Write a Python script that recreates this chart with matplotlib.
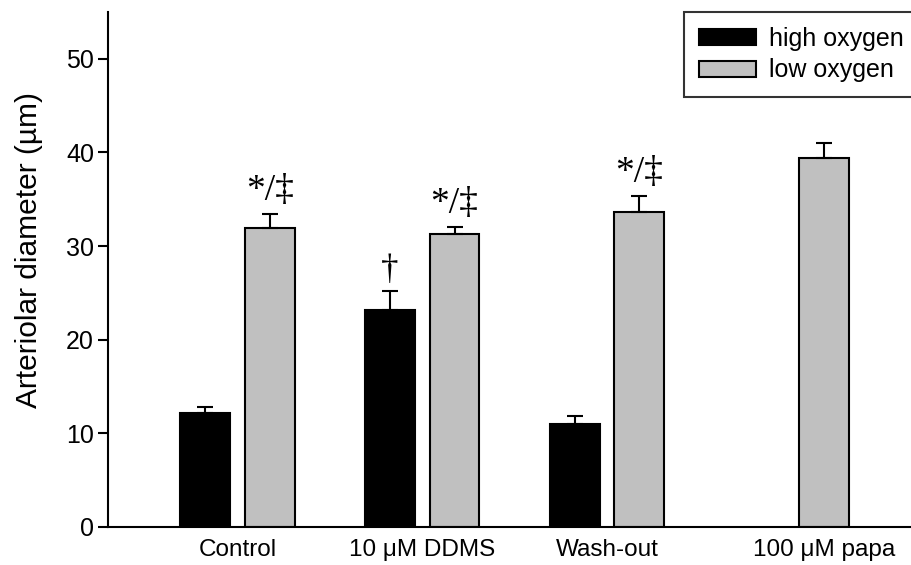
import numpy as np
import matplotlib.pyplot as plt

groups = ["Control", "10 μM DDMS", "Wash-out", "100 μM papa"]
high_o2 = [12.2, 23.2, 11.05, np.nan]
high_err = [0.65, 2.0, 0.8, np.nan]
low_o2 = [31.9, 31.3, 33.6, 39.4]
low_err = [1.55, 0.75, 1.75, 1.6]
high_marks = ["", "†", "", ""]
low_marks = ["*/‡", "*/‡", "*/‡", ""]

plt.rcParams['font.family'] = ['Liberation Sans', 'DejaVu Sans']

fig = plt.figure(figsize=(9.12, 5.65), dpi=100)
ax = fig.add_axes([0.1184, 0.0673, 0.8816, 0.9115])

x = np.arange(len(groups))
w = 0.27
off = 0.175
ekw = dict(elinewidth=1.5, capthick=1.5, capsize=5.5, ecolor='black')

ax.bar(x - off, high_o2, w, color='black', edgecolor='black', linewidth=1.5,
       label='high oxygen')
ax.errorbar(x - off, high_o2, yerr=[np.zeros(len(x)), high_err], fmt='none', **ekw)
ax.bar(x + off, low_o2, w, color='#c0c0c0', edgecolor='black', linewidth=1.5,
       label='low oxygen')
ax.errorbar(x + off, low_o2, yerr=[np.zeros(len(x)), low_err], fmt='none', **ekw)

# significance marks
for i in range(len(x)):
    if high_marks[i]:
        ax.annotate(high_marks[i], (x[i] - off, high_o2[i] + high_err[i]),
                    xytext=(0, 3), textcoords='offset points', ha='center', va='bottom',
                    fontsize=25, family='Liberation Serif')
    if low_marks[i]:
        ax.annotate(low_marks[i], (x[i] + off, low_o2[i] + low_err[i]),
                    xytext=(0, 4), textcoords='offset points', ha='center', va='bottom',
                    fontsize=27, family='Liberation Serif')

ticks = [x[0], x[1], x[2], x[3] + off]
ax.set_xticks(ticks)
ax.set_xticklabels(groups, fontsize=17.5)
ax.tick_params(axis='x', length=0, pad=8.5)
ax.tick_params(axis='y', direction='out', length=7, width=1.5, labelsize=18, pad=3)

ax.set_xlim(-0.70, 3.65)
ax.set_ylim(0, 55)
ax.set_yticks([0, 10, 20, 30, 40, 50])
ax.set_ylabel('Arteriolar diameter (µm)', fontsize=21.5)
ax.yaxis.set_label_coords(-0.081, 0.538)

for s in ['top', 'right']:
    ax.spines[s].set_visible(False)
for s in ['left', 'bottom']:
    ax.spines[s].set_linewidth(1.5)

leg = ax.legend(loc='upper left', bbox_to_anchor=(0.716, 1.0), borderaxespad=0,
                fontsize=18, frameon=True, fancybox=False, edgecolor='black',
                handlelength=2.3, handleheight=0.6, borderpad=0.6, labelspacing=0.3,
                handletextpad=0.5)
leg.get_frame().set_linewidth(1.5)

plt.savefig('out.png', dpi=100)
